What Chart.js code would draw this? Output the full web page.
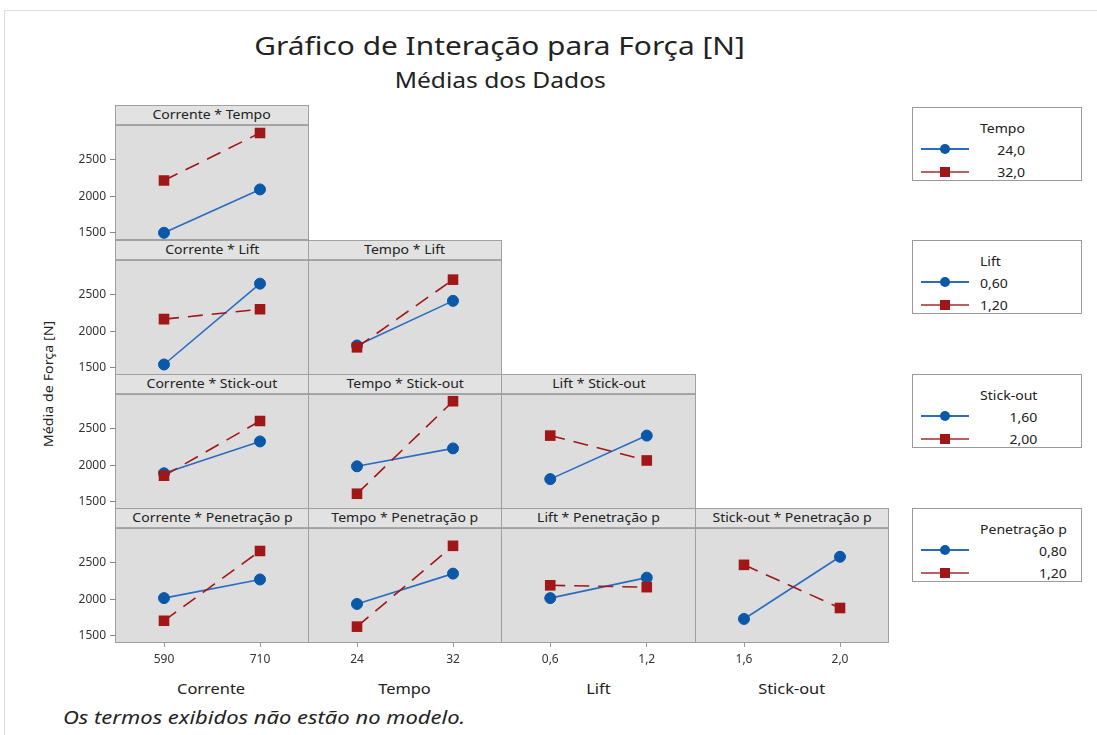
<!DOCTYPE html>
<html>
<head>
<meta charset="utf-8">
<script src="https://cdn.jsdelivr.net/npm/chart.js@4.4.1/dist/chart.umd.min.js"></script>
<style>
    body { margin: 0; background: #fff; font-family: "Noto Sans", sans-serif; color: #222; }
    #page { position: relative; width: 1097px; height: 735px; overflow: hidden; }
    #frame { position: absolute; left: 4px; top: 10px; width: 1200px; height: 800px; border-left: 1px solid #ddd; border-top: 1px solid #ddd; }
    .txt { position: absolute; white-space: nowrap; }
    .wide { display: inline-block; transform: scaleX(1.17); }
    .hdr { position: absolute; box-sizing: border-box; border: 1px solid #a0a0a0; border-bottom: 2px solid #a8a8a8; background: #e2e2e2; font-size: 12px; text-align: center; line-height: 17px; color: #222; }
    .plot { position: absolute; box-sizing: border-box; border: 1px solid #a0a0a0; background: #dddddd; }
    canvas { position: absolute; }
    .leg { position: absolute; box-sizing: border-box; border: 1px solid #9a9a9a; background: #fff; width: 170px; height: 74px; font-size: 12px; }
    .legcol { position: absolute; left: 67px; top: 10px; display: inline-block; transform: scaleX(1.17); transform-origin: left center; }
    .legcol div { line-height: 22px; }
    .legcol .t { text-align: left; }
    .legcol .v { text-align: right; }
    .sym { position: absolute; left: 8px; width: 48px; height: 2px; }
    .mk { position: absolute; }
</style>
</head>
<body>
<div id="page">
    <div id="frame"></div>
    <div class="txt" style="left:0;width:1000px;top:28px;text-align:center;font-size:25.5px;"><span class="wide">Gráfico de Interação para Força [N]</span></div>
    <div class="txt" style="left:0;width:1000px;top:66px;text-align:center;font-size:21px;"><span class="wide">Médias dos Dados</span></div>
    <div class="txt" style="left:48px;top:384px;font-size:13px;transform:translate(-50%,-50%) rotate(-90deg) scaleX(1.1);">Média de Força [N]</div>
    <div class="txt" style="left:63px;top:704px;font-size:18.8px;font-style:italic;transform:scaleX(1.17);transform-origin:left top;">Os termos exibidos não estão no modelo.</div>
</div>
<script>
// Fatores e níveis
const factors = ['Corrente', 'Tempo', 'Lift', 'Stick-out', 'Penetração p'];
const xTickLabels = [['590', '710'], ['24', '32'], ['0,6', '1,2'], ['1,6', '2,0']];
const legendLevels = [['24,0', '32,0'], ['0,60', '1,20'], ['1,60', '2,00'], ['0,80', '1,20']];

// Médias (primeira linha = nível baixo do fator da linha, segunda = nível alto)
const correnteTempo = [[1500, 2093], [2215, 2865]];
const correnteLift = [[1545, 2650], [2165, 2300]];
const tempoLift = [[1805, 2415], [1780, 2705]];
const correnteStick = [[1890, 2325], [1855, 2605]];
const tempoStick = [[1985, 2230], [1610, 2875]];
const liftStick = [[1810, 2405], [2405, 2065]];
const correntePen = [[2015, 2270], [1705, 2660]];
const tempoPen = [[1935, 2350], [1625, 2730]];
const liftPen = [[2015, 2295], [2190, 2165]];
const stickPen = [[1730, 2580], [2470, 1880]];

const yMin = 1415, yMax = 2960;
const yTicks = [1500, 2000, 2500];

const rows = [
    [correnteTempo],
    [correnteLift, tempoLift],
    [correnteStick, tempoStick, liftStick],
    [correntePen, tempoPen, liftPen, stickPen]
];

const BLUE = '#0b57a8';
const BLUE_LINE = '#2a6cc0';
const RED = '#a11616';

const colLeft = [115, 308, 501, 695, 888];
const rowTop = [105, 240, 374, 508];
const HDR_H = 20;
const PLOT_H = 114;
const Y_AXIS_W = 52;
const X_AXIS_H = 30;

const page = document.getElementById('page');

function addDiv(cls, style, html) {
    const d = document.createElement('div');
    d.className = cls;
    d.style.cssText = style;
    if (html) d.innerHTML = html;
    page.appendChild(d);
    return d;
}

// sem margem extra para os rótulos: a área do gráfico fica igual ao painel
function noPad(s) {
    s.paddingTop = 0;
    s.paddingBottom = 0;
    s.paddingLeft = 0;
    s.paddingRight = 0;
}

function makePanel(r, c, means) {
    const left = colLeft[c];
    const w = colLeft[c + 1] - colLeft[c];
    const top = rowTop[r];
    addDiv('hdr', `left:${left}px;top:${top}px;width:${w + 1}px;height:${HDR_H + 1}px;`,
        `<span class="wide">${factors[c]} * ${factors[r + 1]}</span>`);
    addDiv('plot', `left:${left}px;top:${top + HDR_H}px;width:${w + 1}px;height:${PLOT_H + 1}px;`);

    const isLeft = c === 0;
    const isBottom = r === 3;
    const cv = document.createElement('canvas');
    const cl = left + 1 - (isLeft ? Y_AXIS_W : 0);
    const ct = top + HDR_H + 1;
    const cw = w - 1 + (isLeft ? Y_AXIS_W : 0);
    const ch = PLOT_H - 1 + (isBottom ? X_AXIS_H : 0);
    cv.style.left = cl + 'px';
    cv.style.top = ct + 'px';
    cv.width = cw;
    cv.height = ch;
    cv.style.width = cw + 'px';
    cv.style.height = ch + 'px';
    page.appendChild(cv);

    const xScale = {
        type: 'category',
        offset: true,
        display: isBottom,
        grid: { drawOnChartArea: false, tickLength: 5, color: '#999' },
        border: { display: false },
        ticks: { color: '#333', font: { size: 12, family: 'Noto Sans' }, padding: 5 }
    };
    if (isBottom) xScale.afterFit = s => { s.height = X_AXIS_H; noPad(s); };

    const yScale = {
        min: yMin,
        max: yMax,
        display: isLeft,
        grid: { drawOnChartArea: false, tickLength: 6, color: '#888' },
        border: { display: false },
        ticks: {
            stepSize: 500,
            includeBounds: false,
            color: '#333',
            font: { size: 12, family: 'Noto Sans' },
            padding: 4,
            callback: v => String(v)
        },
        afterBuildTicks: s => { s.ticks = yTicks.map(v => ({ value: v })); }
    };
    if (isLeft) yScale.afterFit = s => { s.width = Y_AXIS_W; noPad(s); };

    new Chart(cv.getContext('2d'), {
        type: 'line',
        data: {
            labels: xTickLabels[c],
            datasets: [{
                data: means[0],
                borderColor: BLUE_LINE,
                backgroundColor: BLUE,
                pointBorderColor: BLUE,
                borderWidth: 1.6,
                pointStyle: 'circle',
                pointRadius: 5.5,
                pointBorderWidth: 1,
                order: 1
            }, {
                data: means[1],
                borderColor: RED,
                backgroundColor: RED,
                borderDash: [15, 9],
                borderWidth: 1.6,
                pointStyle: 'rect',
                pointRadius: 7.5,
                pointBorderWidth: 0,
                order: 0
            }]
        },
        options: {
            responsive: false,
            animation: false,
            devicePixelRatio: 1,
            layout: { padding: 0, autoPadding: false },
            plugins: { legend: { display: false }, tooltip: { enabled: false } },
            scales: { x: xScale, y: yScale }
        }
    });
}

rows.forEach((panels, r) => panels.forEach((m, c) => makePanel(r, c, m)));

// Títulos dos eixos x
xTickLabels.forEach((_, c) => {
    const left = colLeft[c], w = colLeft[c + 1] - colLeft[c];
    addDiv('txt', `left:${left}px;width:${w}px;top:679px;text-align:center;font-size:14px;`,
        `<span class="wide">${factors[c]}</span>`);
});

// Legendas
const legTop = [107, 240, 374, 508];
legendLevels.forEach((lv, i) => {
    const box = addDiv('leg', `left:912px;top:${legTop[i]}px;`);
    const col = document.createElement('div');
    col.className = 'legcol';
    col.innerHTML = `<div class="t">${factors[i + 1]}</div><div class="v">${lv[0]}</div><div class="v">${lv[1]}</div>`;
    box.appendChild(col);
    [[BLUE_LINE, BLUE, 40, '50%'], ['#bb6060', RED, 63, '0']].forEach(([lc, mc, y, rad]) => {
        const s = document.createElement('div');
        s.className = 'sym';
        s.style.cssText = `top:${y}px;background:${lc};`;
        box.appendChild(s);
        const m = document.createElement('div');
        m.className = 'mk';
        m.style.cssText = `left:27px;top:${y - 4}px;width:10px;height:10px;background:${mc};border-radius:${rad};`;
        box.appendChild(m);
    });
});
</script>
</body>
</html>
